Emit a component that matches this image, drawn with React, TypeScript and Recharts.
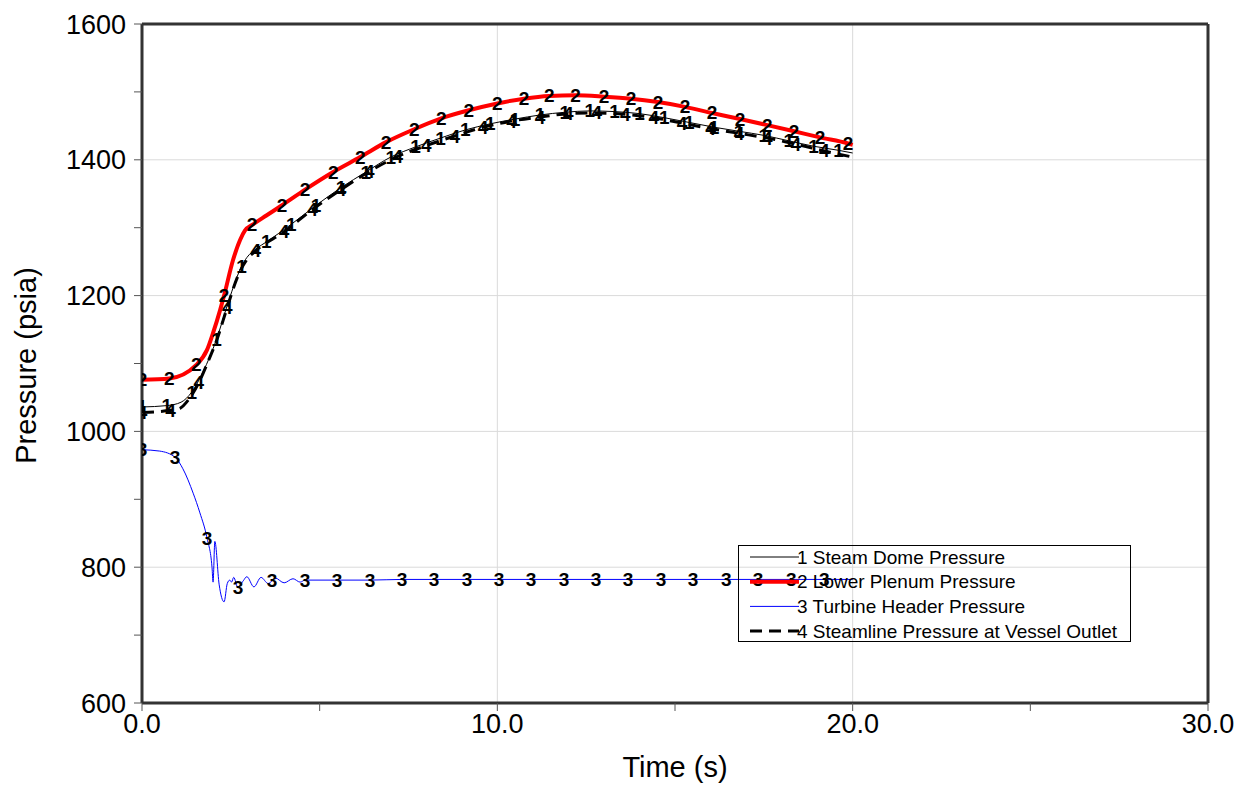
import React from "react";
import { LineChart, Line, XAxis, YAxis, ReferenceLine, Legend, Label } from "recharts";

// Steam dome pressure (series 1)
const domeTime = [0, 0.7, 1.1, 1.4, 1.72, 2.1, 2.39, 2.67, 2.8, 2.95, 3.24, 3.5, 4.2, 4.9, 5.6, 6.3, 7.0, 7.7, 8.4, 9.1, 9.8, 10.5, 11.2, 11.9, 12.6, 13.3, 14.0, 14.7, 15.4, 16.1, 16.8, 17.5, 18.2, 18.9, 19.6, 20];
const domePressure = [1036, 1038, 1043, 1058, 1088, 1136, 1184, 1227, 1243, 1256, 1270, 1279, 1305, 1333, 1359, 1382, 1404, 1419, 1432, 1444, 1453, 1460, 1466, 1470, 1472, 1471, 1468, 1462, 1455, 1448, 1442, 1436, 1428, 1420, 1414, 1410];
const domeMarks = [0, 0.7, 1.4, 2.1, 2.8, 3.5, 4.2, 4.9, 5.6, 6.3, 7.0, 7.7, 8.4, 9.1, 9.8, 10.5, 11.2, 11.9, 12.6, 13.3, 14.0, 14.7, 15.4, 16.1, 16.8, 17.5, 18.2, 18.9, 19.6];

// Lower plenum pressure (series 2)
const plenumTime = [0, 0.77, 1.53, 1.83, 2.0, 2.2, 2.31, 2.56, 2.76, 2.9, 3.1, 3.5, 3.94, 4.59, 5.38, 6.14, 6.87, 7.66, 8.42, 9.2, 10.0, 10.75, 11.46, 12.2, 13.0, 13.76, 14.52, 15.28, 16.04, 16.83, 17.6, 18.35, 19.08, 19.87, 20];
const plenumPressure = [1076, 1078, 1098, 1120, 1145, 1179, 1200, 1252, 1282, 1296, 1304, 1318, 1333, 1356, 1382, 1404, 1426, 1445, 1461, 1473, 1483, 1490, 1494, 1495, 1493, 1490, 1485, 1478, 1469, 1460, 1451, 1442, 1433, 1424, 1422];
const plenumMarks = [0, 0.77, 1.53, 2.31, 3.1, 3.94, 4.59, 5.38, 6.14, 6.87, 7.66, 8.42, 9.2, 10.0, 10.75, 11.46, 12.2, 13.0, 13.76, 14.52, 15.28, 16.04, 16.83, 17.6, 18.35, 19.08, 19.87];

// Turbine header pressure (series 3)
const headerTime = [0, 0.5, 0.93, 1.15, 1.44, 1.63, 1.83, 1.97, 2.0, 2.05, 2.17, 2.31, 2.4, 2.47, 2.52, 2.58, 2.7, 2.85, 2.95, 3.15, 3.35, 3.55, 3.66, 3.75, 4.0, 4.25, 4.45, 4.59, 5.49, 6.42, 7.32, 8.22, 9.15, 10.05, 10.95, 11.88, 12.78, 13.68, 14.61, 15.51, 16.44, 17.34, 18.27, 19.2, 20];
const headerPressure = [973, 971, 962, 945, 909, 880, 843, 800, 778, 838, 775, 749, 776, 781, 778, 785, 770, 780, 786, 771, 785, 776, 780, 784, 777, 783, 778, 781, 781, 781, 782, 782, 782, 782, 782, 782, 782, 782, 782, 782, 782, 782, 782, 782, 782];
const headerMarks = [0, 0.93, 1.83, 2.7, 3.66, 4.59, 5.49, 6.42, 7.32, 8.22, 9.15, 10.05, 10.95, 11.88, 12.78, 13.68, 14.61, 15.51, 16.44, 17.34, 18.27, 19.2];

// Steamline pressure at vessel outlet (series 4)
const steamlineTime = [0, 0.8, 1.07, 1.3, 1.6, 1.9, 2.1, 2.4, 2.67, 2.95, 3.2, 4.0, 4.8, 5.6, 6.4, 7.2, 8.0, 8.8, 9.6, 10.4, 11.2, 12.0, 12.8, 13.6, 14.4, 15.2, 16.0, 16.8, 17.6, 18.4, 19.2, 20.0];
const steamlinePressure = [1028, 1031, 1034, 1046, 1072, 1108, 1134, 1183, 1225, 1253, 1266, 1294, 1327, 1356, 1383, 1405, 1421, 1435, 1448, 1457, 1463, 1468, 1469, 1467, 1462, 1454, 1446, 1439, 1432, 1423, 1413, 1404];
const steamlineMarks = [0, 0.8, 1.6, 2.4, 3.2, 4.0, 4.8, 5.6, 6.4, 7.2, 8.0, 8.8, 9.6, 10.4, 11.2, 12.0, 12.8, 13.6, 14.4, 15.2, 16.0, 16.8, 17.6, 18.4, 19.2];

const seriesNames = [
  "Steam Dome Pressure",
  "Lower Plenum Pressure",
  "Turbine Header Pressure",
  "Steamline Pressure at Vessel Outlet",
];

const xTicks = [0, 5, 10, 15, 20, 25, 30];
const yTicks = [600, 700, 800, 900, 1000, 1100, 1200, 1300, 1400, 1500, 1600];
const xGrid = [10, 20];
const yGrid = [800, 1000, 1200, 1400];

const toRows = (time: number[], p: number[]) => time.map((t, i) => ({ t, p: p[i] }));

const domeData = toRows(domeTime, domePressure);
const plenumData = toRows(plenumTime, plenumPressure);
const headerData = toRows(headerTime, headerPressure);
const steamlineData = toRows(steamlineTime, steamlinePressure);

const FONT = "'Liberation Sans', Arial, Helvetica, sans-serif";

const markDot = (marks: number[], label: string) => (props: any) => {
  const { cx, cy, payload, index } = props;
  if (cx == null || cy == null || !marks.includes(payload.t)) {
    return <g key={`n-${label}-${index}`} />;
  }
  return (
    <text
      key={`m-${label}-${index}`}
      x={cx}
      y={cy}
      textAnchor="middle"
      dominantBaseline="central"
      fontSize={19}
      fontWeight="bold"
      fontFamily={FONT}
      fill="#000"
    >
      {label}
    </text>
  );
};

const legendStyles = [
  { stroke: "#000", width: 1, dash: undefined },
  { stroke: "#ff0000", width: 4, dash: undefined },
  { stroke: "#0000ff", width: 1, dash: undefined },
  { stroke: "#000", width: 3, dash: "12 7" },
];

const LegendBox = () => (
  <svg width={393} height={97} style={{ display: "block", overflow: "visible" }}>
    <rect x={0.5} y={0.5} width={392} height={96} fill="none" stroke="#000" strokeWidth={1} />
    {seriesNames.map((name, i) => {
      const y = 12 + i * 24.7;
      const s = legendStyles[i];
      return (
        <g key={name}>
          <line x1={12} x2={61} y1={y} y2={y} stroke={s.stroke} strokeWidth={s.width} strokeDasharray={s.dash} />
          <text x={59} y={y} dominantBaseline="central" fontSize={19} fontFamily={FONT} fill="#000">
            {`${i + 1} ${name}`}
          </text>
        </g>
      );
    })}
  </svg>
);

const axisLine = { stroke: "#333", strokeWidth: 3 };
const tickLine = { stroke: "#555", strokeWidth: 1 };

export default function App() {
  return (
    <div
      style={{
        position: "absolute",
        left: 0,
        top: 0,
        width: 1247,
        height: 786,
        background: "#fff",
        fontFamily: FONT,
      }}
    >
      <LineChart width={1247} height={786} margin={{ top: 0, right: 0, bottom: 8, left: 0 }}>
        <XAxis
          dataKey="t"
          type="number"
          domain={[0, 30]}
          ticks={xTicks}
          allowDataOverflow
          height={75}
          tickSize={8}
          tickMargin={3}
          tickFormatter={(v: number) => (v % 10 === 0 ? v.toFixed(1) : "")}
          tick={{ fill: "#000", fontSize: 27 }}
          axisLine={axisLine}
          tickLine={tickLine}
        >
          <Label
            content={({ viewBox }: any) => (
              <text
                x={viewBox.x + viewBox.width / 2}
                y={viewBox.y + 74}
                textAnchor="middle"
                fontSize={29}
                fontFamily={FONT}
                fill="#000"
              >
                Time (s)
              </text>
            )}
          />
        </XAxis>
        <XAxis
          xAxisId="top"
          orientation="top"
          type="number"
          domain={[0, 30]}
          ticks={xTicks}
          height={24}
          tickSize={8}
          tickFormatter={() => ""}
          axisLine={axisLine}
          tickLine={tickLine}
        />
        <YAxis
          type="number"
          domain={[600, 1600]}
          ticks={yTicks}
          allowDataOverflow
          width={142}
          tickSize={8}
          tickMargin={8}
          tickFormatter={(v: number) => (v % 200 === 0 ? String(v) : "")}
          tick={{ fill: "#000", fontSize: 27 }}
          axisLine={axisLine}
          tickLine={tickLine}
        >
          <Label
            content={({ viewBox }: any) => {
              const cx = viewBox.x + 36;
              const cy = viewBox.y + viewBox.height / 2 + 2;
              return (
                <text
                  x={cx}
                  y={cy}
                  transform={`rotate(-90 ${cx} ${cy})`}
                  textAnchor="middle"
                  fontSize={29}
                  fontFamily={FONT}
                  fill="#000"
                >
                  Pressure (psia)
                </text>
              );
            }}
          />
        </YAxis>
        <YAxis
          yAxisId="r"
          orientation="right"
          type="number"
          domain={[600, 1600]}
          ticks={yTicks}
          width={39}
          tickSize={8}
          tickFormatter={() => ""}
          axisLine={axisLine}
          tickLine={tickLine}
        />
        {xGrid.map((x) => (
          <ReferenceLine key={`gx${x}`} x={x} stroke="#dadada" strokeWidth={1} />
        ))}
        {yGrid.map((y) => (
          <ReferenceLine key={`gy${y}`} y={y} stroke="#dadada" strokeWidth={1} />
        ))}
        <Legend
          layout="horizontal"
          verticalAlign="middle"
          align="center"
          content={() => <LegendBox />}
          wrapperStyle={{ left: 738, top: 545, width: 393, height: 97 }}
        />
        <Line
          data={headerData}
          dataKey="p"
          name={seriesNames[2]}
          type="monotone"
          stroke="#0000ff"
          strokeWidth={1}
          dot={markDot(headerMarks, "3")}
          activeDot={false}
          isAnimationActive={false}
        />
        <Line
          data={plenumData}
          dataKey="p"
          name={seriesNames[1]}
          type="monotone"
          stroke="#ff0000"
          strokeWidth={4}
          dot={markDot(plenumMarks, "2")}
          activeDot={false}
          isAnimationActive={false}
        />
        <Line
          data={domeData}
          dataKey="p"
          name={seriesNames[0]}
          type="monotone"
          stroke="#000"
          strokeWidth={1}
          dot={markDot(domeMarks, "1")}
          activeDot={false}
          isAnimationActive={false}
        />
        <Line
          data={steamlineData}
          dataKey="p"
          name={seriesNames[3]}
          type="monotone"
          stroke="#000"
          strokeWidth={3}
          strokeDasharray="12 7"
          dot={markDot(steamlineMarks, "4")}
          activeDot={false}
          isAnimationActive={false}
        />
      </LineChart>
    </div>
  );
}
